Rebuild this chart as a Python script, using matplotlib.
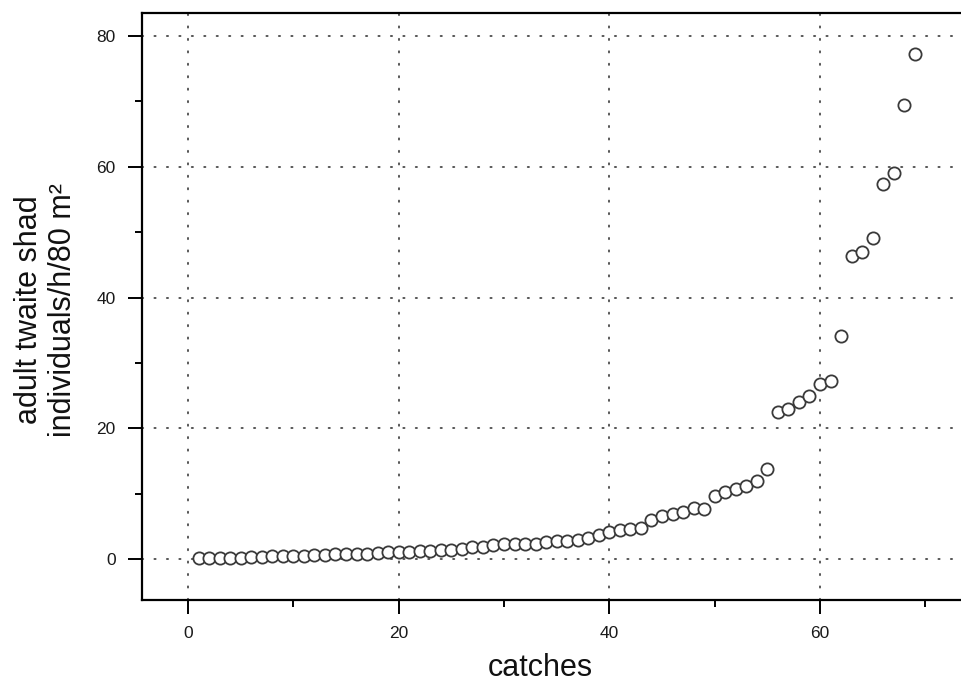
import matplotlib
matplotlib.use("Agg")
import matplotlib.pyplot as plt
from matplotlib import font_manager
from matplotlib.ticker import MultipleLocator

names = {f.name for f in font_manager.fontManager.ttflist}
base_font = "Liberation Sans" if "Liberation Sans" in names else "DejaVu Sans"
plt.rcParams["font.family"] = [base_font, "DejaVu Sans"]

# ---- data -------------------------------------------------------------
catches = list(range(1, 70))
density = [0.1, 0.1, 0.2, 0.2, 0.2, 0.3, 0.3, 0.4, 0.4, 0.5,
           0.5, 0.6, 0.6, 0.7, 0.7, 0.8, 0.8, 0.9, 1.0, 1.0,
           1.1, 1.2, 1.3, 1.4, 1.4, 1.6, 1.8, 1.9, 2.2, 2.3,
           2.3, 2.3, 2.3, 2.6, 2.7, 2.8, 2.9, 3.2, 3.6, 4.1,
           4.4, 4.6, 4.7, 5.9, 6.6, 6.9, 7.2, 7.8, 7.7, 9.7,
           10.3, 10.7, 11.2, 11.9, 13.7, 22.5, 22.9, 24.0, 24.9, 26.8,
           27.3, 34.1, 46.3, 46.9, 49.1, 57.3, 59.1, 69.4, 77.3]
x_ticks = [0, 20, 40, 60]
y_ticks = [0, 20, 40, 60, 80]
x_label = "catches"
y_label = "adult twaite shad\nindividuals/h/80 m²"

# ---- figure -----------------------------------------------------------
W, H = 962, 689
fig = plt.figure(figsize=(W / 100, H / 100), dpi=100)
ax = fig.add_axes([142 / W, (H - 600) / H, (W - 142) / W, (600 - 13) / H])

ax.set_xlim(-4.37, 73.48)
ax.set_ylim(-6.27, 83.52)

ax.set_axisbelow(True)
grid_kw = dict(color="#555555", linewidth=1.4, linestyle=(0, (0.6, 5.8)),
               dash_capstyle="round", zorder=0)
for xv in x_ticks:
    ax.axvline(xv, **grid_kw)
for yv in y_ticks:
    ax.axhline(yv, **grid_kw)

ax.plot(catches, density, linestyle="none", marker="o", markersize=8.8,
        markerfacecolor="white", markeredgecolor="#3a3a3a",
        markeredgewidth=1.3, zorder=3, clip_on=False)

ax.set_xticks(x_ticks)
ax.set_yticks(y_ticks)
ax.xaxis.set_minor_locator(MultipleLocator(10))
ax.yaxis.set_minor_locator(MultipleLocator(10))
ax.tick_params(which="major", direction="out", length=10, width=1.4,
               colors="black", labelcolor="#1a1a1a", labelsize=12.5)
ax.tick_params(which="minor", direction="out", length=5, width=1.4,
               colors="black")
ax.tick_params(axis="x", which="major", pad=9)
ax.tick_params(axis="y", which="major", pad=9)

for side in ["left", "top", "bottom"]:
    ax.spines[side].set_linewidth(1.6)
    ax.spines[side].set_color("black")
ax.spines["right"].set_visible(False)

fig.text(540 / W, 1 - 668 / H, x_label, ha="center", va="center",
         fontsize=22, color="#111111")
fig.text(46 / W, 1 - 310 / H, y_label, ha="center", va="center",
         rotation=90, fontsize=22, color="#111111", linespacing=1.15,
         multialignment="center")

fig.savefig("out.png", dpi=100)
